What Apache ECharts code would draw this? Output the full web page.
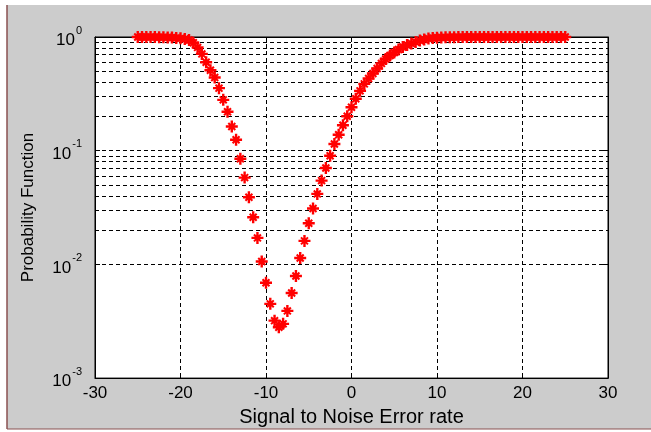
<!DOCTYPE html>
<html>
<head>
<meta charset="utf-8">
<script src="https://cdn.jsdelivr.net/npm/echarts@6/dist/echarts.min.js"></script>
<style>
  html, body { margin: 0; padding: 0; background: #fff; }
  #chart { width: 651px; height: 432px; }
</style>
</head>
<body>
<div id="chart"></div>
<script>
// SNR values (x)
const snr = [
  -25, -24.5, -24, -23.5, -23, -22.5, -22, -21.5, -21, -20.5,
  -20, -19.5, -19, -18.5, -18, -17.5, -17, -16.5, -16, -15.5,
  -15, -14.5, -14, -13.5, -13, -12.5, -12, -11.5, -11, -10.5,
  -10, -9.5, -9, -8.5, -8, -7.5, -7, -6.5, -6, -5.5,
  -5, -4.5, -4, -3.5, -3, -2.5, -2, -1.5, -1, -0.5,
  0, 0.5, 1, 1.5, 2, 2.5, 3, 3.5, 4, 4.5,
  5, 5.5, 6, 6.5, 7, 7.5, 8, 8.5, 9, 9.5,
  10, 10.5, 11, 11.5, 12, 12.5, 13, 13.5, 14, 14.5,
  15, 15.5, 16, 16.5, 17, 17.5, 18, 18.5, 19, 19.5,
  20, 20.5, 21, 21.5, 22, 22.5, 23, 23.5, 24, 24.5,
  25
];

// probability (y)
const prob = [
  1.0, 1.0, 1.0, 0.999, 0.998, 0.997, 0.995, 0.992, 0.988, 0.982,
  0.973, 0.96, 0.94, 0.89, 0.81, 0.71, 0.60, 0.51, 0.44, 0.355,
  0.28, 0.22, 0.163, 0.125, 0.085, 0.058, 0.039, 0.026, 0.0171, 0.0106,
  0.0069, 0.0045, 0.0032, 0.0028, 0.0030, 0.0039, 0.0056, 0.0079, 0.0114, 0.0161,
  0.023, 0.031, 0.0417, 0.0546, 0.0705, 0.0904, 0.1145, 0.138, 0.1675, 0.201,
  0.241, 0.286, 0.336, 0.387, 0.432, 0.478, 0.529, 0.586, 0.641, 0.688,
  0.731, 0.777, 0.817, 0.851, 0.877, 0.904, 0.931, 0.951, 0.97, 0.98,
  0.985, 0.99, 0.993, 0.995, 0.997, 0.998, 0.999, 0.999, 1.0, 1.0,
  1.0, 1.0, 1.0, 1.0, 1.0, 1.0, 1.0, 1.0, 1.0, 1.0,
  1.0, 1.0, 1.0, 1.0, 1.0, 1.0, 1.0, 1.0, 1.0, 1.0,
  1.0
];

const xTicks = [-30, -20, -10, 0, 10, 20, 30];
const decades = [0.001, 0.01, 0.1];
const minorSteps = [2, 3, 4, 5, 6, 7, 8, 9];

const chart = echarts.init(document.getElementById('chart'), null, { renderer: 'canvas' });

const gridDash = { color: '#000', width: 1, type: [4, 3] };
const font = 'Liberation Sans, Arial, sans-serif';
const boxAxis = { show: true, onZero: false, lineStyle: { color: '#000' } };
const inTick = { show: true, inside: true, length: 5, lineStyle: { color: '#000' } };

// dashed log grid at 2..9 of each decade
const minorLines = [];
decades.forEach(d => minorSteps.forEach(m => minorLines.push({ yAxis: +(d * m).toPrecision(3) })));

// matlab style asterisk
const star = 'path://M4,0H6V10H4Z M0,4H10V6H0Z ' +
  'M1.5,2.7L2.7,1.5L8.5,7.3L7.3,8.5Z M7.3,1.5L8.5,2.7L2.7,8.5L1.5,7.3Z ' +
  'M3.2,3.2H6.8V6.8H3.2Z';

chart.setOption({
  animation: false,
  graphic: [
    { type: 'rect', z: -10, silent: true, shape: { x: 7, y: 5, width: 644, height: 424 }, style: { fill: '#cccccc' } },
    { type: 'line', z: -9, silent: true, shape: { x1: 7, y1: 5, x2: 7, y2: 429 }, style: { stroke: '#8a5050', lineWidth: 1.5 } },
    { type: 'line', z: -9, silent: true, shape: { x1: 7, y1: 429, x2: 651, y2: 429 }, style: { stroke: '#8a5050', lineWidth: 1 } }
  ],
  grid: {
    left: 95, right: 43, top: 37, bottom: 53,
    show: true, backgroundColor: '#fff', borderColor: '#000', borderWidth: 1
  },
  xAxis: [{
    type: 'value', min: -30, max: 30, interval: 10,
    name: 'Signal to Noise Error rate', nameLocation: 'middle', nameGap: 24,
    nameTextStyle: { color: '#000', fontSize: 20, fontFamily: font },
    axisLine: boxAxis,
    axisTick: inTick,
    axisLabel: { color: '#000', fontSize: 17, fontFamily: font, margin: 7,
      formatter: v => xTicks.includes(v) ? String(v) : '' },
    splitLine: { show: true, lineStyle: gridDash }
  }, {
    type: 'value', min: -30, max: 30, interval: 10, position: 'top',
    axisLine: boxAxis, axisTick: inTick,
    axisLabel: { show: false }, splitLine: { show: false }
  }],
  yAxis: [{
    type: 'log', logBase: 10, min: 0.001, max: 1,
    name: 'Probability Function', nameLocation: 'middle', nameGap: 58,
    nameTextStyle: { color: '#000', fontSize: 17, fontFamily: font },
    axisLine: boxAxis,
    axisTick: inTick,
    axisLabel: {
      color: '#000', margin: 13,
      formatter: v => '{b|10}{s|' + Math.round(Math.log10(v)) + '}',
      rich: {
        b: { fontSize: 17, fontFamily: font, color: '#000', lineHeight: 24, verticalAlign: 'bottom' },
        s: { fontSize: 11, fontFamily: font, color: '#000', lineHeight: 24, verticalAlign: 'top', padding: [0, 0, 0, 1] }
      }
    },
    splitLine: { show: true, lineStyle: gridDash }
  }, {
    type: 'log', logBase: 10, min: 0.001, max: 1, position: 'right',
    axisLine: boxAxis, axisTick: inTick,
    axisLabel: { show: false }, splitLine: { show: false }
  }],
  series: [{
    type: 'scatter',
    data: snr.map((x, i) => [x, prob[i]]),
    symbol: star,
    symbolSize: 12,
    itemStyle: { color: '#ff0000', opacity: 1 },
    z: 5,
    markLine: {
      silent: true, symbol: 'none', animation: false,
      label: { show: false },
      lineStyle: gridDash,
      emphasis: { disabled: true },
      data: minorLines
    }
  }]
});
</script>
</body>
</html>
